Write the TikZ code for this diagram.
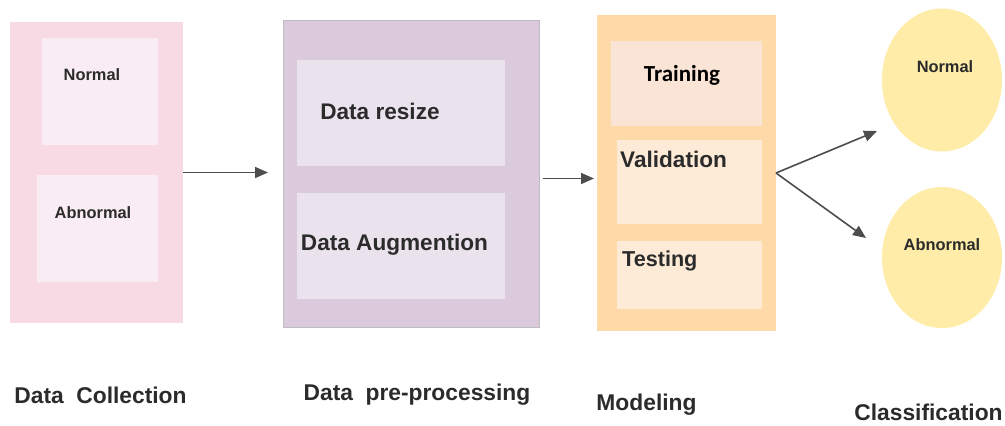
\documentclass[tikz,border=0pt]{standalone}
\usepackage{fontspec}
\setmainfont{Liberation Sans}
\newfontfamily\carl{Carlito}
\usetikzlibrary{arrows.meta,shapes.geometric}
\definecolor{pinkO}{HTML}{F8DAE4}
\definecolor{pinkI}{HTML}{FAECF3}
\definecolor{purO}{HTML}{DBCADC}
\definecolor{purI}{HTML}{EAE2EC}
\definecolor{purE}{HTML}{BDBDBD}
\definecolor{oraO}{HTML}{FDDAA8}
\definecolor{oraT}{HTML}{FAE4D5}
\definecolor{oraI}{HTML}{FDEBD7}
\definecolor{yel}{HTML}{FEECA8}
\definecolor{txt}{HTML}{2B2B2B}
\definecolor{arr}{HTML}{4D4D4D}
\begin{document}
\begin{tikzpicture}[x=1pt,y=-1pt,
  box/.style={rectangle, inner sep=0pt, outer sep=0pt, draw=none},
  oval/.style={ellipse, inner sep=0pt, outer sep=0pt, fill=yel, draw=none},
  small/.style={text=txt, font=\fontsize{16.4}{19}\selectfont\bfseries, inner sep=0pt},
  mid/.style={text=txt, font=\fontsize{22.6}{26}\selectfont\bfseries, inner sep=0pt},
  big/.style={text=txt, font=\fontsize{22.8}{26}\selectfont\bfseries, inner sep=0pt},
  conn/.style={draw=arr, line width=1.6pt, -{Triangle[length=13pt,width=11pt]}}
]
\useasboundingbox (0,0) rectangle (1005,426);
% Data collection
\node[box, fill=pinkO, minimum width=173pt, minimum height=301pt] (dc) at (96.5,172.5) {};
\node[box, fill=pinkI, minimum width=116pt, minimum height=107pt] (dcN) at (100,91.5) {};
\node[box, fill=pinkI, minimum width=121pt, minimum height=107pt] (dcA) at (97.5,228.5) {};
\node[small] (tdcN) at (92,75) {Normal};
\node[small] (tdcA) at (93,213) {Abnormal};
% Pre-processing
\node[box, fill=purO, draw=purE, line width=0.8pt, minimum width=256pt, minimum height=307pt] (pp) at (411,173.5) {};
\node[box, fill=purI, minimum width=208pt, minimum height=106pt] (ppR) at (401,113) {};
\node[box, fill=purI, minimum width=208pt, minimum height=106pt] (ppA) at (401,246) {};
\node[mid] (tppR) at (380,111) {Data resize};
\node[mid] (tppA) at (394.5,245) {Data Augmention};
% Modeling
\node[box, fill=oraO, minimum width=179pt, minimum height=316pt] (md) at (686.5,173) {};
\node[box, fill=oraT, minimum width=151pt, minimum height=85pt] (mdT) at (686.5,83.5) {};
\node[box, fill=oraI, minimum width=145pt, minimum height=84pt] (mdV) at (689.5,182) {};
\node[box, fill=oraI, minimum width=145pt, minimum height=68pt] (mdS) at (689.5,275) {};
\node[inner sep=0pt, text=black, font=\fontsize{23}{26}\selectfont\carl\bfseries] (tmdT) at (682,75) {Training};
\node[mid, anchor=west] (tmdV) at (620,159) {Validation};
\node[mid, anchor=west, font=\fontsize{21.6}{26}\selectfont\bfseries] (tmdS) at (622,261) {Testing};
% Classification
\node[oval, minimum width=120pt, minimum height=143pt] (clN) at (942,80) {};
\node[oval, minimum width=120pt, minimum height=141pt] (clA) at (942,257.5) {};
\node[small] (tclN) at (945,67) {Normal};
\node[small] (tclA) at (942,245) {Abnormal};
% Connectors
\coordinate (a2s) at (543,178.5);
\coordinate (t1) at (877,131);
\coordinate (t2) at (866,238);
\draw[conn, shorten >=15pt] (dc.east) -- (pp.west |- dc.east);
\draw[conn, shorten >=3pt] (a2s) -- (md.west |- a2s);
\draw[conn] (md.east) -- (t1);
\draw[conn] (md.east) -- (t2);
% Bottom labels
\node[big] (lDC) at (100.5,395) {Data\hspace{0.55em}Collection};
\node[big] (lPP) at (417,395) {Data\hspace{0.55em}pre-processing};
\node[big] (lMD) at (646.5,405) {Modeling};
\node[big] (lCL) at (928.5,412) {Classification};
\end{tikzpicture}
\end{document}
